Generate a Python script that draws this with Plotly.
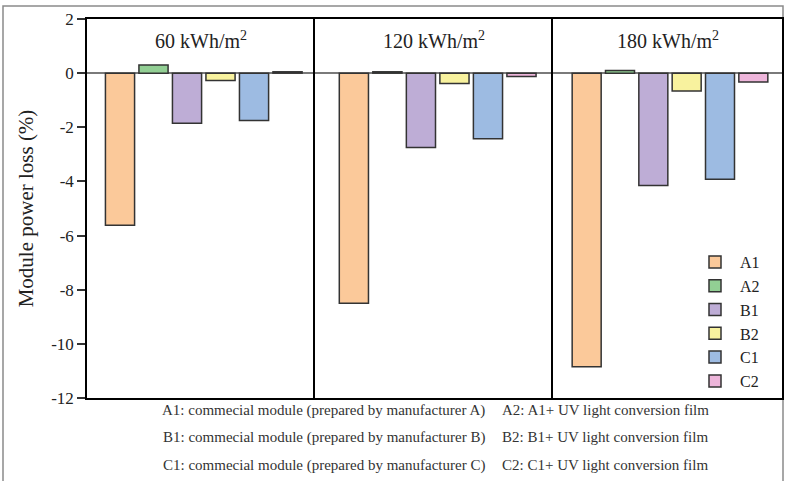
import plotly.graph_objects as go
from plotly.subplots import make_subplots

# ---- data ----
series = ["A1", "A2", "B1", "B2", "C1", "C2"]
panels = ["60 kWh/m<sup>2</sup>", "120 kWh/m<sup>2</sup>", "180 kWh/m<sup>2</sup>"]
loss_60 = [-5.62, 0.30, -1.85, -0.27, -1.75, 0.05]
loss_120 = [-8.50, 0.05, -2.75, -0.38, -2.42, -0.12]
loss_180 = [-10.85, 0.10, -4.15, -0.66, -3.92, -0.33]
colors = ["#FBC99A", "#92CF94", "#BEADD6", "#F8F29E", "#9DBBE2", "#EDB5DA"]
yticks = [2, 0, -2, -4, -6, -8, -10, -12]
notes_left = [
    "A1: commecial module (prepared by manufacturer A)",
    "B1: commecial module (prepared by manufacturer B)",
    "C1: commecial module (prepared by manufacturer C)",
]
notes_right = [
    "A2: A1+ UV light conversion film",
    "B2: B1+ UV light conversion film",
    "C2: C1+ UV light conversion film",
]
values = [loss_60, loss_120, loss_180]

W, H = 785, 481
ML, MR, MT, MB = 87, 3, 19, 83
PW = W - ML - MR
PH = H - MT - MB
SERIF = "Liberation Serif, Times New Roman, serif"

fig = make_subplots(rows=1, cols=3, shared_yaxes=True, horizontal_spacing=0)

for p, vals in enumerate(values):
    for i, s in enumerate(series):
        fig.add_trace(
            go.Bar(
                x=[s], y=[vals[i]], name=s, legendgroup=s,
                showlegend=(p == 0),
                marker=dict(color=colors[i], line=dict(color="#333333", width=1.5)),
            ),
            row=1, col=p + 1,
        )

div1, div2 = 315, 553
d1 = (div1 - ML) / PW
d2 = (div2 - ML) / PW
domains = [[0, d1], [d1, d2], [d2, 1]]
xranges = [[-0.985, 5.82], [-1.16, 5.94], [-1.01, 5.86]]

for k in range(3):
    ax = "xaxis" if k == 0 else f"xaxis{k+1}"
    fig.layout[ax].update(
        domain=domains[k], range=xranges[k], showticklabels=False, ticks="",
        showline=True, linecolor="black", linewidth=1.5, mirror=True,
        showgrid=False, zeroline=False, automargin=False,
    )
    yax = "yaxis" if k == 0 else f"yaxis{k+1}"
    fig.layout[yax].update(
        range=[-12, 2], showline=True, linecolor="black", linewidth=1.5,
        mirror=(k == 2), automargin=False,
        showgrid=False, zeroline=True, zerolinecolor="#7a7a7a", zerolinewidth=1.5,
    )
    xc = (domains[k][0] + domains[k][1]) / 2
    fig.add_annotation(
        text=panels[k], x=xc, y=1 - (40 - MT) / PH, xref="paper", yref="paper",
        showarrow=False, font=dict(family=SERIF, size=20, color="#222"),
        xanchor="center", yanchor="middle",
    )

fig.layout.yaxis.update(
    tickvals=yticks, ticktext=[str(t) for t in yticks], ticks="outside", ticklen=8,
    tickwidth=1.5, tickcolor="#333", tickfont=dict(family=SERIF, size=17, color="#222"),
    title=dict(text="Module power loss (%)", font=dict(family=SERIF, size=21, color="#222"), standoff=12),
)
for k in (2, 3):
    fig.layout[f"yaxis{k}"].update(showticklabels=False, ticks="")

rows_y = [410, 437, 465]
for j in range(3):
    yp = (H - MB - rows_y[j]) / PH
    fig.add_annotation(text=notes_left[j], x=(487 - ML) / PW, y=yp, xref="paper", yref="paper",
                       xanchor="right", yanchor="middle", showarrow=False,
                       font=dict(family=SERIF, size=15, color="#333"))
    fig.add_annotation(text=notes_right[j], x=(500 - ML) / PW, y=yp, xref="paper", yref="paper",
                       xanchor="left", yanchor="middle", showarrow=False,
                       font=dict(family=SERIF, size=15, color="#333"))

fig.add_shape(type="rect", xref="paper", yref="paper",
              x0=(3 - ML) / PW, x1=(783 - ML) / PW,
              y0=(H - MB - 490) / PH, y1=(H - MB - 6) / PH,
              line=dict(color="#8a8a8a", width=1.5), fillcolor="rgba(0,0,0,0)", layer="below")

fig.update_layout(
    width=W, height=H, margin=dict(l=ML, r=MR, t=MT, b=MB, autoexpand=False),
    barmode="overlay", bargap=0.13,
    plot_bgcolor="white", paper_bgcolor="white",
    legend=dict(x=(690 - ML) / PW, y=(H - MB - 245) / PH, xanchor="left", yanchor="top",
                font=dict(family=SERIF, size=16, color="#222"), bgcolor="rgba(0,0,0,0)",
                tracegroupgap=0, itemwidth=40),
)

fig.write_html("out.html", config={"displayModeBar": False},
               post_script="document.body.style.margin='0';")
